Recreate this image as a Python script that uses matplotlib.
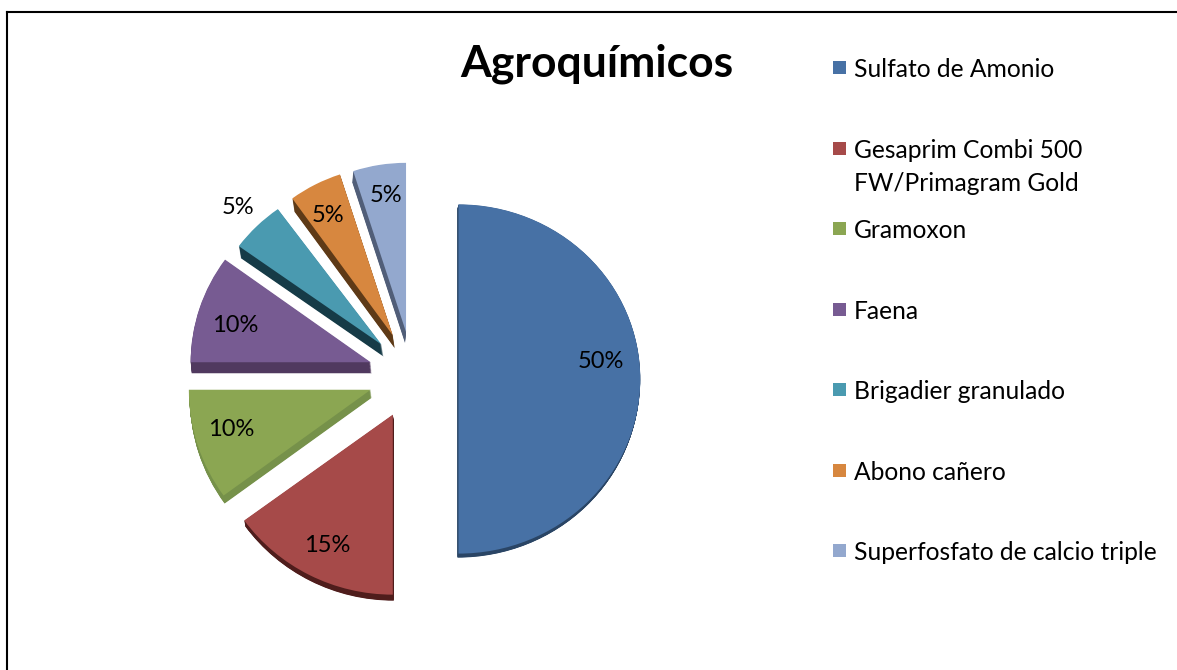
import matplotlib
matplotlib.use("Agg")
import matplotlib.pyplot as plt
from matplotlib.lines import Line2D
from matplotlib.patches import Rectangle, Wedge
from matplotlib.transforms import Affine2D

plt.rcParams['font.family'] = ['Lato', 'DejaVu Sans']

# Data
labels = ['Sulfato de Amonio', 'Gesaprim Combi 500\nFW/Primagram Gold', 'Gramoxon', 'Faena',
          'Brigadier granulado', 'Abono cañero', 'Superfosfato de calcio triple']
values = [50, 15, 10, 10, 5, 5, 5]
colors = ['#4771A5', '#A64A49', '#8BA652', '#775B92', '#4A9AB0', '#D7873F', '#93A8CE']
side_colors = ['#2A4565', '#4F1D1C', '#76914A', '#50395F', '#163B47', '#5E3A17', '#515E78']

# Layout, in pixels of the 1177x670 picture
W, H = 1177, 670
R = 180
cx, cy = 413, 376
explode_px = 44.5
squash = [(1.01, 0.97), (1.02, 1.0), (1.01, 1.0), (1.0, 0.97), (0.98, 0.93), (0.95, 0.94), (0.95, 0.94)]
nudge = [(1, 3), (0, -1), (0, 0), (0, 0), (0, 0), (0, -1), (0, 0)]
depth = [(-1, 4), (1, 6), (1, 8), (1, 11), (2, 12), (2, 13), (-1, 11)]
pct_pos = [(601, 362), (327, 545), (231, 430), (235, 326), (238, 208), (328, 216), (386, 196)]
legend_y = [68, 149, 229, 310, 390, 471, 551]

fig = plt.figure(figsize=(W / 100, H / 100), dpi=100)
ax = fig.add_axes([0, 0, 1, 1])

wedges, _, pcts = ax.pie(values, colors=colors, startangle=90, counterclock=False,
                         explode=[explode_px / R] * len(values), autopct='%.0f%%',
                         textprops={'fontsize': 17, 'color': 'black'})
ax.set_aspect('auto')
ax.set_xlim(-cx / R, (W - cx) / R)
ax.set_ylim(-(H - cy) / R, cy / R)
ax.axis('off')


def squash_tf(center, sx, sy):
    return Affine2D().translate(-center[0], -center[1]).scale(sx, sy).translate(*center) + ax.transData


# Faces get squashed a little (perspective), the side is the same shape swept along depth
for i, w in enumerate(wedges):
    sx, sy = squash[i]
    nx, ny = nudge[i]
    base = (w.center[0] + nx / R, w.center[1] - ny / R)
    w.set_center(base)
    w.set_transform(squash_tf(base, sx, sy))
    w.set_zorder(3)
    dx, dy = depth[i]
    for s in range(1, 15):
        off = (base[0] + dx * s / 14 / R, base[1] - dy * s / 14 / R)
        side = Wedge(off, w.r, w.theta1, w.theta2, facecolor=side_colors[i], edgecolor='none')
        side.set_transform(squash_tf(off, sx, sy))
        side.set_zorder(2)
        ax.add_patch(side)

for t, (px, py) in zip(pcts, pct_pos):
    t.set_position(((px - cx) / R, (cy - py) / R))
    t.set_zorder(5)

fig.text(597 / W, 1 - 64 / H, 'Agroquímicos', fontsize=32, fontweight='bold',
         ha='center', va='center')

# Legend
for lab, col, y in zip(labels, colors, legend_y):
    fig.add_artist(Rectangle((833 / W, 1 - (y + 6) / H), 13 / W, 13 / H, transform=fig.transFigure,
                             facecolor=col, edgecolor='none'))
    fig.text(854 / W, 1 - (y - 10) / H, lab, fontsize=17.7, ha='left', va='top', linespacing=1.55)

# Frame of the pasted picture: only top and left show
fig.add_artist(Line2D([7 / W, 7 / W], [0, 1 - 12 / H], color='black', lw=1.5, transform=fig.transFigure))
fig.add_artist(Line2D([7 / W, 1], [1 - 12 / H, 1 - 12 / H], color='black', lw=1.5, transform=fig.transFigure))

fig.savefig('out.png', dpi=100)
